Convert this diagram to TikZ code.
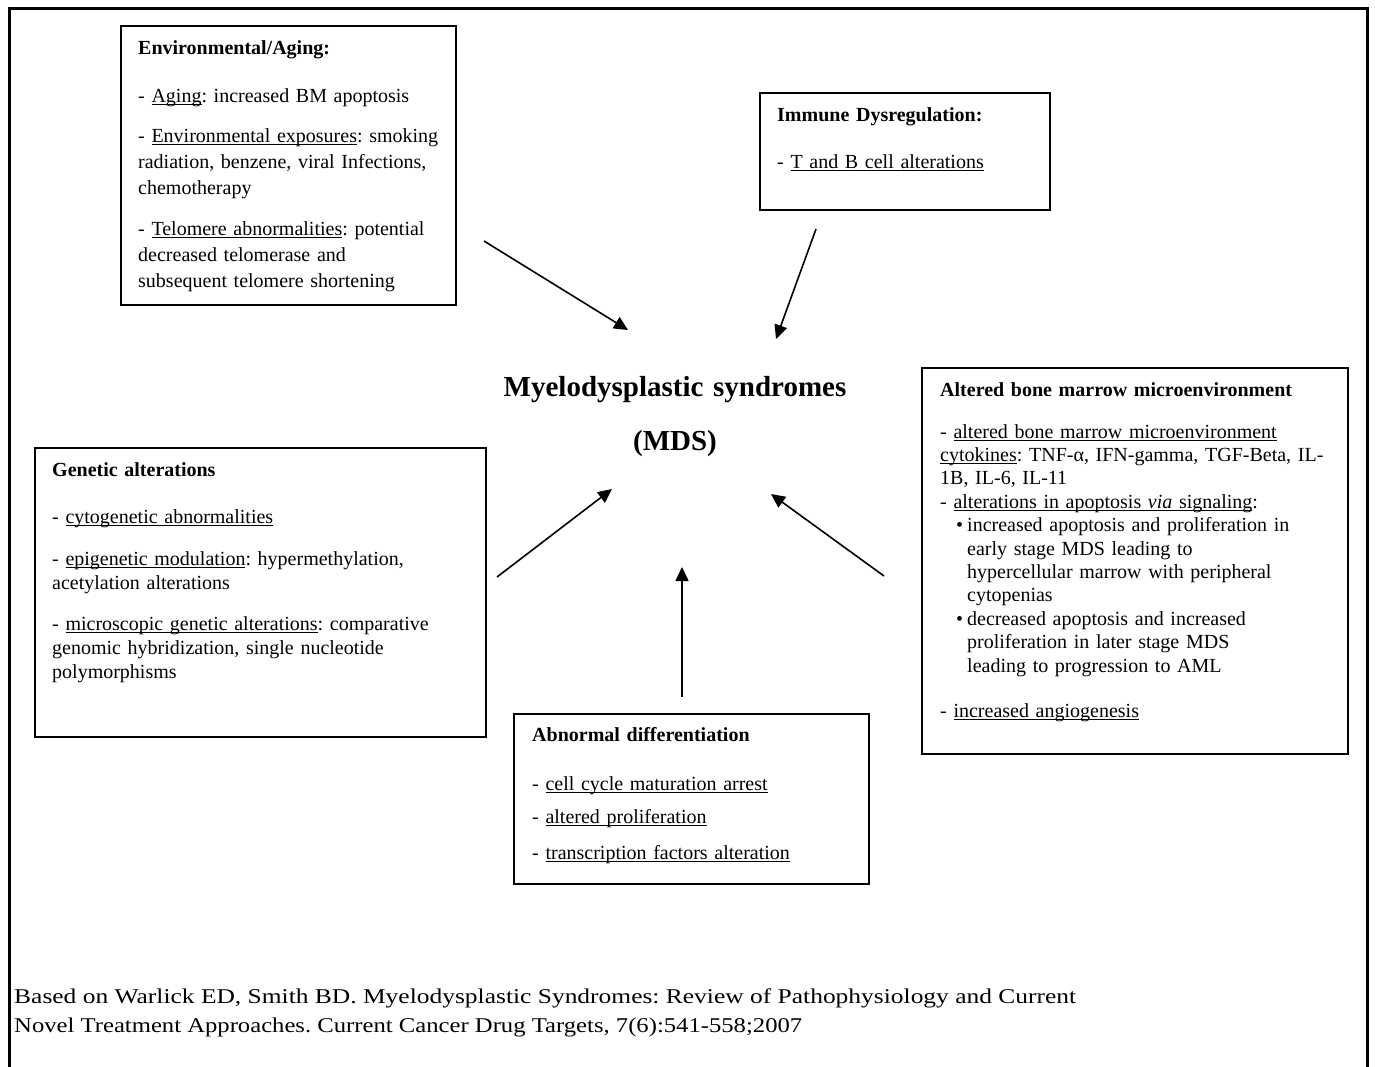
\documentclass[tikz,border=0pt]{standalone}
\usepackage{fontspec}
\setmainfont{Liberation Serif}
\usepackage{graphicx}
\usetikzlibrary{arrows.meta}
\frenchspacing
\newcommand\uln[1]{\leavevmode\setbox0\hbox{#1}\rlap{\rule[-3pt]{\wd0}{1pt}}\box0}
\newcommand\bul{\leavevmode\hspace*{16pt}\makebox[11pt][l]{•}}
\newcommand\bulc{\leavevmode\hspace*{27pt}}
\tikzset{
  box/.style={draw, line width=1.6pt, inner sep=0pt, anchor=north west},
  body/.style={anchor=base west, inner sep=0pt, align=left},
  arr/.style={line width=1.6pt, -{Triangle[length=14pt,width=13pt]}},
}
\begin{document}
\begin{tikzpicture}[x=1pt,y=-1pt]
\useasboundingbox (0,0) rectangle (1375,1066);
\fill[white] (0,0) rectangle (1375,1066);
% outer frame (open at bottom)
\draw[line width=2.5pt] (9.5,1070) -- (9.5,8.5) -- (1367.5,8.5) -- (1367.5,1070);

% boxes
\node[box, minimum width=335pt, minimum height=279pt] (env) at (120,25) {};
\node[box, minimum width=290pt, minimum height=117pt] (imm) at (759,92) {};
\node[box, minimum width=426pt, minimum height=386pt] (bm) at (921,367) {};
\node[box, minimum width=451pt, minimum height=289pt] (gen) at (34,447) {};
\node[box, minimum width=355pt, minimum height=170pt] (abn) at (513,713) {};

% environmental text
\node[body, text width=320pt, font=\fontsize{20}{26}\selectfont] (envT) at (138,54) {%
\textbf{Environmental/Aging:}\\[22pt]
- \uln{Aging}: increased BM apoptosis\\[14pt]
- \uln{Environmental exposures}: smoking\\
radiation, benzene, viral Infections,\\
chemotherapy\\[15pt]
- \uln{Telomere abnormalities}: potential\\
decreased telomerase and\\
subsequent telomere shortening};

% immune text
\node[body, text width=280pt, font=\fontsize{20}{26}\selectfont] (immT) at (777,121) {%
\textbf{Immune Dysregulation:}\\[21pt]
- \uln{T and B cell alterations}};

% centre
\node[anchor=base, inner sep=0pt, text width=420pt, align=center,
      font=\fontsize{29}{54}\selectfont\bfseries] (mds) at (675,396) {%
Myelodysplastic syndromes\\
(MDS)};

% bone marrow text
\node[body, text width=420pt, font=\fontsize{20}{23.4}\selectfont] (bmT) at (940,396) {%
\textbf{Altered bone marrow microenvironment}\\[18.6pt]
- \uln{altered bone marrow microenvironment}\\
\uln{cytokines}: TNF-α, IFN-gamma, TGF-Beta, IL-\\
1B, IL-6, IL-11\\
- \uln{alterations in apoptosis \textit{via} signaling}:\\
\bul increased apoptosis and proliferation in\\
\bulc early stage MDS leading to\\
\bulc hypercellular marrow with peripheral\\
\bulc cytopenias\\
\bul decreased apoptosis and increased\\
\bulc proliferation in later stage MDS\\
\bulc leading to progression to AML\\[21.6pt]
- \uln{increased angiogenesis}};

% genetic text
\node[body, text width=440pt, font=\fontsize{20}{24}\selectfont] (genT) at (52,476) {%
\textbf{Genetic alterations}\\[23pt]
- \uln{cytogenetic abnormalities}\\[18pt]
- \uln{epigenetic modulation}: hypermethylation,\\
acetylation alterations\\[17pt]
- \uln{microscopic genetic alterations}: comparative\\
genomic hybridization, single nucleotide\\
polymorphisms};

% abnormal differentiation text
\node[body, text width=340pt, font=\fontsize{20}{26}\selectfont] (abnT) at (532,741) {%
\textbf{Abnormal differentiation}\\[23pt]
- \uln{cell cycle maturation arrest}\\[7pt]
- \uln{altered proliferation}\\[10pt]
- \uln{transcription factors alteration}};

% footer
\node[anchor=base west, inner sep=0pt, font=\fontsize{21}{29}\selectfont] (ref1) at (14,1003)
  {\resizebox{1062pt}{\height}{Based on Warlick ED, Smith BD. Myelodysplastic Syndromes: Review of Pathophysiology and Current}};
\node[anchor=base west, inner sep=0pt, font=\fontsize{21}{29}\selectfont] (ref2) at (14,1032)
  {\resizebox{788pt}{\height}{Novel Treatment Approaches. Current Cancer Drug Targets, 7(6):541-558;2007}};

% arrows
\coordinate (a1s) at (484,241); \coordinate (a1e) at (628,330);
\coordinate (a2s) at (816,229); \coordinate (a2e) at (776,339);
\coordinate (a3s) at (497,577); \coordinate (a3e) at (612,489);
\coordinate (a4s) at (682,697); \coordinate (a4e) at (682,567);
\coordinate (a5s) at (884,576); \coordinate (a5e) at (771,494);
\draw[arr] (a1s) -- (a1e);
\draw[arr] (a2s) -- (a2e);
\draw[arr] (a3s) -- (a3e);
\draw[arr] (a4s) -- (a4e);
\draw[arr] (a5s) -- (a5e);
\end{tikzpicture}
\end{document}
